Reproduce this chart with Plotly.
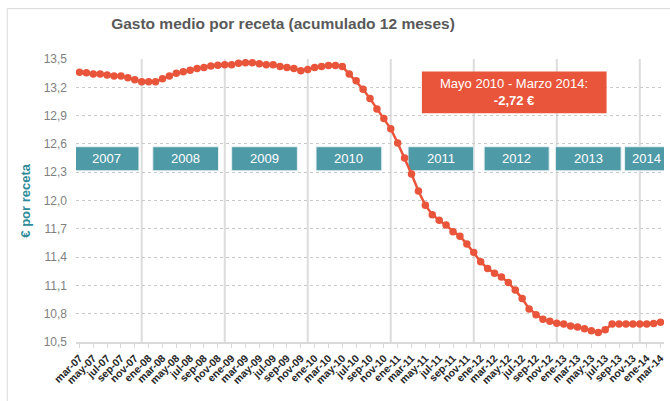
import plotly.graph_objects as go

months = [
    "mar-07", "abr-07", "may-07", "jun-07", "jul-07", "ago-07", "sep-07", "oct-07", "nov-07", "dic-07",
    "ene-08", "feb-08", "mar-08", "abr-08", "may-08", "jun-08", "jul-08", "ago-08", "sep-08", "oct-08", "nov-08", "dic-08",
    "ene-09", "feb-09", "mar-09", "abr-09", "may-09", "jun-09", "jul-09", "ago-09", "sep-09", "oct-09", "nov-09", "dic-09",
    "ene-10", "feb-10", "mar-10", "abr-10", "may-10", "jun-10", "jul-10", "ago-10", "sep-10", "oct-10", "nov-10", "dic-10",
    "ene-11", "feb-11", "mar-11", "abr-11", "may-11", "jun-11", "jul-11", "ago-11", "sep-11", "oct-11", "nov-11", "dic-11",
    "ene-12", "feb-12", "mar-12", "abr-12", "may-12", "jun-12", "jul-12", "ago-12", "sep-12", "oct-12", "nov-12", "dic-12",
    "ene-13", "feb-13", "mar-13", "abr-13", "may-13", "jun-13", "jul-13", "ago-13", "sep-13", "oct-13", "nov-13", "dic-13",
    "ene-14", "feb-14", "mar-14",
]

gasto = [
    13.36, 13.355, 13.34, 13.34, 13.33, 13.32, 13.32, 13.30, 13.28, 13.26,
    13.26, 13.26, 13.29, 13.32, 13.35, 13.365, 13.38, 13.40, 13.41, 13.425, 13.435, 13.44,
    13.44, 13.455, 13.46, 13.46, 13.45, 13.44, 13.44, 13.42, 13.41, 13.40, 13.375, 13.39,
    13.41, 13.42, 13.43, 13.43, 13.42, 13.34, 13.27, 13.18, 13.08, 12.97, 12.87, 12.76,
    12.61, 12.45, 12.28, 12.10, 11.95, 11.85, 11.79, 11.74, 11.67, 11.62, 11.54, 11.45,
    11.35, 11.28, 11.23, 11.19, 11.13, 11.05, 10.96, 10.85, 10.79, 10.74, 10.72, 10.70,
    10.69, 10.67, 10.66, 10.64, 10.62, 10.60, 10.63, 10.69, 10.69, 10.69, 10.69, 10.69,
    10.69, 10.695, 10.71,
]

tick_labels = months[::2]
y_ticks = [10.5, 10.8, 11.1, 11.4, 11.7, 12.0, 12.3, 12.6, 12.9, 13.2, 13.5]

years = ["2007", "2008", "2009", "2010", "2011", "2012", "2013", "2014"]
# extensión horizontal de cada recuadro de año (posición en meses)
year_spans = [(-0.8, 8.6), (10.6, 20.1), (22.0, 31.5), (34.2, 43.7),
              (47.5, 57.0), (58.5, 67.9), (68.8, 78.3), (78.8, 85.2)]
year_breaks = [9, 21, 33, 45, 57, 69, 81]

FONT = "Liberation Sans, Arial, sans-serif"
RED = "#e8553b"
TEAL = "#4f9aa7"

fig = go.Figure()
fig.add_trace(
    go.Scatter(
        x=list(range(len(gasto))),
        y=gasto,
        mode="lines+markers",
        line={"color": RED, "width": 2.5},
        marker={"color": RED, "size": 7.5},
        hovertemplate="%{text}: %{y:.2f} €<extra></extra>",
        text=months,
        showlegend=False,
    )
)

shapes = [
    # marco del gráfico
    dict(type="rect", xref="paper", yref="paper", x0=-0.117, x1=1.02, y0=-0.25, y1=1.178,
         line={"color": "#d9d9d9", "width": 1}, layer="below"),
]
for b in year_breaks:
    shapes.append(dict(type="line", xref="x", yref="paper", x0=b, x1=b, y0=0, y1=1,
                       line={"color": "#dcdcdc", "width": 2}, layer="between"))
for (x0, x1) in year_spans:
    shapes.append(dict(type="rect", xref="x", yref="y", x0=x0, x1=x1, y0=12.315, y1=12.57,
                       fillcolor=TEAL, line={"color": "#e6f0f2", "width": 1}, layer="between"))
shapes.append(dict(type="rect", xref="x", yref="y", x0=49.5, x1=76.2, y0=12.926, y1=13.368,
                   fillcolor=RED, line={"width": 0}, layer="between"))

annotations = []
for label, (x0, x1) in zip(years, year_spans):
    annotations.append(dict(x=(x0 + x1) / 2, y=12.443, xref="x", yref="y", text=label,
                            showarrow=False, font={"color": "white", "size": 13, "family": FONT}))
annotations.append(dict(x=62.85, y=13.147, xref="x", yref="y",
                        text="Mayo 2010 - Marzo 2014:<br><b>-2,72 €</b>",
                        showarrow=False, font={"color": "white", "size": 13, "family": FONT}))
annotations.append(dict(x=(25 - 76) / 590, y=(341.7 - 200.5) / 282.4, xref="paper", yref="paper",
                        xanchor="center", yanchor="middle", text="€ por receta",
                        textangle=-90, showarrow=False,
                        font={"color": "#2f8b9a", "size": 13, "family": FONT, "weight": "bold"}))

fig.update_layout(
    width=670,
    height=401,
    margin={"l": 76, "r": 4, "t": 59, "b": 59},
    paper_bgcolor="white",
    plot_bgcolor="white",
    separators=",.",
    font={"family": FONT},
    title={
        "text": "<b>Gasto medio por receta (acumulado 12 meses)</b>",
        "x": 283 / 670,
        "xanchor": "center",
        "xref": "container",
        "y": 1 - 24 / 401,
        "yanchor": "middle",
        "font": {"size": 15.5, "color": "#595959", "family": FONT},
    },
    shapes=shapes,
    annotations=annotations,
)

fig.update_xaxes(
    range=[-0.5, 84.5],
    tickmode="array",
    tickvals=list(range(0, len(months), 2)),
    ticktext=tick_labels,
    tickangle=-45,
    tickfont={"size": 10.5, "color": "#262626", "family": FONT, "weight": "bold"},
    ticks="outside",
    ticklen=4,
    tickcolor="#d9d9d9",
    showline=True,
    linecolor="#d9d9d9",
    linewidth=2,
    showgrid=False,
    zeroline=False,
)
fig.update_yaxes(
    range=[10.5, 13.5],
    tickmode="array",
    tickvals=y_ticks,
    tickformat=".1f",
    tickfont={"size": 12, "color": "#7f7f7f", "family": FONT},
    ticklabelstandoff=8,
    showgrid=True,
    gridcolor="#c9c9c9",
    griddash="dot",
    gridwidth=1,
    zeroline=False,
    showline=False,
)

fig.write_html(
    "out.html",
    config={"displayModeBar": False},
    post_script="document.body.style.margin='0';",
)
